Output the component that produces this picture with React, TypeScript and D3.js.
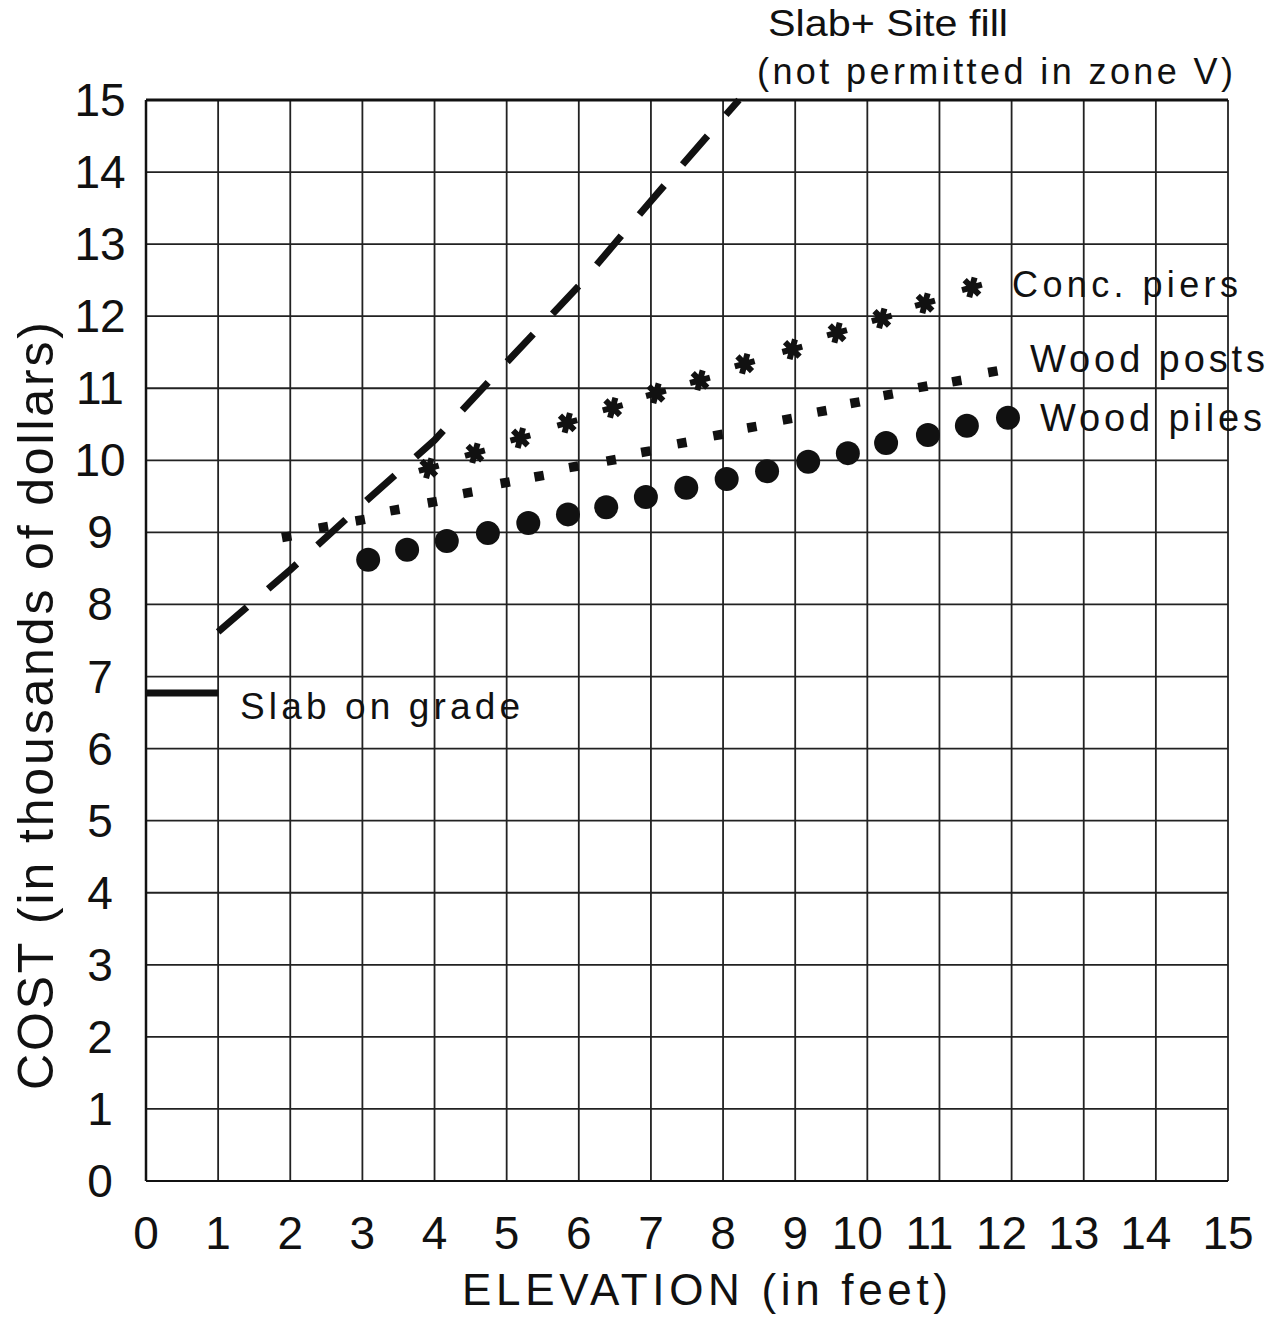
import React from "react";
import * as d3 from "d3";

const W = 1277;
const H = 1318;

const xTicks = [0, 1, 2, 3, 4, 5, 6, 7, 8, 9, 10, 11, 12, 13, 14, 15];
const yTicks = [0, 1, 2, 3, 4, 5, 6, 7, 8, 9, 10, 11, 12, 13, 14, 15];

// Slab on grade (flat cost segment)
const slabGradeX = [0, 1];
const slabGradeY = [6.77, 6.77];

// Slab + Site fill (dashed)
const siteFillX = [1, 2, 3, 4, 5, 6, 7, 8, 8.22];
const siteFillY = [7.62, 8.48, 9.39, 10.28, 11.36, 12.42, 13.6, 14.75, 15.0];

// Concrete piers (asterisks)
const piersX = [3.92, 4.56, 5.19, 5.84, 6.47, 7.07, 7.68, 8.3, 8.96, 9.58, 10.2, 10.8, 11.45];
const piersY = [9.89, 10.1, 10.31, 10.52, 10.73, 10.93, 11.11, 11.34, 11.54, 11.77, 11.97, 12.18, 12.4];

// Wood posts (small squares)
const postsX = [1.95, 2.46, 2.97, 3.45, 3.97, 4.46, 4.98, 5.45, 5.93, 6.45, 6.93, 7.43, 7.93, 8.4, 8.89, 9.37, 9.83, 10.29, 10.77, 11.24, 11.74];
const postsY = [8.94, 9.07, 9.17, 9.31, 9.42, 9.55, 9.69, 9.78, 9.91, 10.0, 10.12, 10.24, 10.35, 10.46, 10.57, 10.68, 10.8, 10.91, 11.02, 11.1, 11.23];

// Wood piles (large dots)
const pilesX = [3.08, 3.62, 4.17, 4.74, 5.3, 5.85, 6.38, 6.93, 7.49, 8.05, 8.61, 9.18, 9.73, 10.26, 10.84, 11.38, 11.95];
const pilesY = [8.62, 8.76, 8.88, 8.99, 9.13, 9.25, 9.35, 9.49, 9.62, 9.74, 9.85, 9.98, 10.1, 10.24, 10.35, 10.48, 10.59];

const FONT = "'Liberation Sans', Arial, Helvetica, sans-serif";
const NARROW = "'Liberation Sans Narrow', 'Liberation Sans', Arial, sans-serif";

export default function App() {
  const x = d3.scaleLinear().domain([0, 15]).range([146, 1228]);
  const y = d3.scaleLinear().domain([0, 15]).range([1181, 100]);

  const zip = (xs: number[], ys: number[]) => xs.map((v, i) => [v, ys[i]] as [number, number]);

  const line = d3
    .line<[number, number]>()
    .x((d) => x(d[0]))
    .y((d) => y(d[1]));

  const asterisk = d3.symbol().type(d3.symbolAsterisk).size(300)();
  const square = d3.symbol().type(d3.symbolSquare).size(90)();

  const stroke = "#222";

  return (
    <svg
      width={W}
      height={H}
      style={{ position: "absolute", left: 0, top: 0, background: "#fff" }}
    >
      <rect x={0} y={0} width={W} height={H} fill="#fff" />
      {/* grid */}
      <g>
        {xTicks.map((t) => (
          <line key={"gx" + t} x1={x(t)} x2={x(t)} y1={y(15)} y2={y(0)} stroke={stroke} strokeWidth={1.8} />
        ))}
        {yTicks.map((t) => (
          <line key={"gy" + t} x1={x(0)} x2={x(15)} y1={y(t)} y2={y(t)} stroke={stroke} strokeWidth={1.8} />
        ))}
        <line x1={x(0)} x2={x(15)} y1={y(15)} y2={y(15)} stroke="#111" strokeWidth={3} />
        <line x1={x(0)} x2={x(0)} y1={y(15)} y2={y(0)} stroke="#111" strokeWidth={2.5} />
        <line x1={x(0)} x2={x(15)} y1={y(0)} y2={y(0)} stroke="#111" strokeWidth={2.2} />
      </g>

      {/* y tick labels */}
      <g fontFamily={FONT} fontSize={46} fill="#111" textAnchor="middle">
        {yTicks.map((t) => (
          <text key={"yl" + t} x={100} y={y(t) + 16}>
            {t}
          </text>
        ))}
      </g>
      {/* x tick labels */}
      <g fontFamily={FONT} fontSize={46} fill="#111" textAnchor="middle">
        {xTicks.map((t) => (
          <text key={"xl" + t} x={x(t) - (t >= 10 && t < 15 ? 10 : 0)} y={1249}>
            {t}
          </text>
        ))}
      </g>

      {/* axis titles */}
      <text
        x={462}
        y={1305}
        fontFamily={FONT}
        fontSize={44}
        fill="#111"
        textLength={486}
        lengthAdjust="spacing"
      >
        ELEVATION (in feet)
      </text>
      <text
        transform="translate(53,1090) rotate(-90)"
        fontFamily={FONT}
        fontSize={50}
        fill="#111"
        textLength={768}
        lengthAdjust="spacing"
      >
        COST (in thousands of dollars)
      </text>

      {/* Slab on grade */}
      <path d={line(zip(slabGradeX, slabGradeY)) || ""} stroke="#111" strokeWidth={7} fill="none" />
      <text x={240} y={719} fontFamily={FONT} fontSize={37} fill="#111" textLength={280} lengthAdjust="spacing">
        Slab on grade
      </text>

      {/* Slab + site fill */}
      <path
        d={line(zip(siteFillX, siteFillY)) || ""}
        stroke="#111"
        strokeWidth={7}
        fill="none"
        strokeDasharray="38 28"
      />
      <text x={768} y={36} fontFamily={NARROW} fontSize={36} fill="#111" textLength={240} lengthAdjust="spacingAndGlyphs">
        Slab+ Site fill
      </text>
      <text x={757} y={84} fontFamily={NARROW} fontSize={36} fill="#111" textLength={476} lengthAdjust="spacing">
        (not permitted in zone V)
      </text>

      {/* Wood posts */}
      <g fill="#111">
        {zip(postsX, postsY).map((d, i) => (
          <path key={"p" + i} d={square || ""} transform={`translate(${x(d[0])},${y(d[1])}) rotate(-10)`} />
        ))}
      </g>
      <text x={1030} y={372} fontFamily={FONT} fontSize={38} fill="#111" textLength={235} lengthAdjust="spacing">
        Wood posts
      </text>

      {/* Wood piles */}
      <g fill="#111">
        {zip(pilesX, pilesY).map((d, i) => (
          <circle key={"c" + i} cx={x(d[0])} cy={y(d[1])} r={12} />
        ))}
      </g>
      <text x={1040} y={431} fontFamily={FONT} fontSize={38} fill="#111" textLength={222} lengthAdjust="spacing">
        Wood piles
      </text>

      {/* Concrete piers */}
      <g stroke="#111" strokeWidth={6} fill="none">
        {zip(piersX, piersY).map((d, i) => (
          <path key={"a" + i} d={asterisk || ""} transform={`translate(${x(d[0])},${y(d[1])}) rotate(15)`} />
        ))}
      </g>
      <text x={1012} y={297} fontFamily={FONT} fontSize={36} fill="#111" textLength={226} lengthAdjust="spacing">
        Conc. piers
      </text>
    </svg>
  );
}
